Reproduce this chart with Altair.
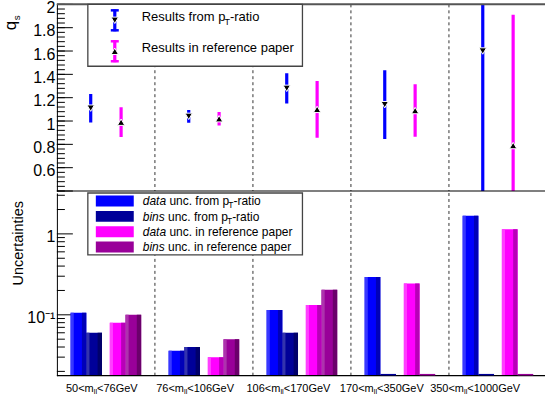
import altair as alt
import pandas as pd

# Invariant-mass bins
BIN_LOW = [50, 76, 106, 170, 350]
BIN_HIGH = [76, 106, 170, 350, 1000]

# q_s results with total uncertainty
Q_PT = [1.11, 1.04, 1.28, 1.14, 1.60]
Q_PT_ERR = [0.122, 0.055, 0.13, 0.295, 1.68]
Q_REF = [0.99, 1.02, 1.10, 1.09, 0.79]
Q_REF_ERR = [0.128, 0.058, 0.243, 0.225, 1.12]

# Uncertainty breakdown
UNC_DATA_PT = [0.106, 0.036, 0.115, 0.294, 1.68]
UNC_BINS_PT = [0.060, 0.040, 0.060, 0.0, 0.0]
UNC_DATA_REF = [0.080, 0.030, 0.132, 0.243, 1.14]
UNC_BINS_REF = [0.100, 0.050, 0.204, 0.0, 0.0]

FONT = "Liberation Sans"
W = 489
H_TOP = 187
H_BOT = 183
X_MAX = 4.98
Q_MIN, Q_MAX = 0.4, 2.0
U_MIN, U_MAX = 0.0177, 3.2

BLUE, NAVY, MAGENTA, PURPLE = "#0000ff", "#000099", "#ff00ff", "#990099"
BASE = [BLUE, NAVY, MAGENTA, PURPLE]
LIGHT = ["#3838ff", "#3333ad", "#ff40ff", "#ad33ad"]
DARK = ["#0000b8", "#00006b", "#b800b8", "#6b006b"]

# Arial / Liberation Sans advance widths (1/1000 em)
ADV = {c: 556 for c in "0123456789"}
ADV.update({"<": 584, "m": 833, "l": 222, "G": 778, "e": 556, "V": 667, "-": 333,
            "r": 333, "a": 556, "t": 278, "i": 222, "o": 556, "T": 611, "p": 556,
            "R": 722, "s": 500, "u": 556, "f": 278, " ": 278, "n": 556, "c": 500,
            ".": 278, "d": 556, "b": 556, "q": 556})


def tw(s, size):
    return sum(ADV.get(ch, 556) for ch in s) / 1000 * size


one = pd.DataFrame({"k": [0]})


def txt(s, x, y, size, align="left", baseline="alphabetic", **kw):
    return alt.Chart(one).mark_text(
        text=s, font=FONT, fontSize=size, align=align, baseline=baseline,
        color=kw.pop("color", "black"), **kw
    ).encode(x=alt.value(x), y=alt.value(y))


def seg(x, x2, y, y2, color, width=1.0, **kw):
    return alt.Chart(one).mark_rule(color=color, strokeWidth=width, **kw).encode(
        x=alt.value(x), x2=alt.value(x2), y=alt.value(y), y2=alt.value(y2))


def box(x, x2, y, y2, fill, stroke=None, width=1.0):
    kw = {"fill": fill}
    if stroke:
        kw.update(stroke=stroke, strokeWidth=width)
    else:
        kw.update(strokeWidth=0)
    return alt.Chart(one).mark_rect(**kw).encode(
        x=alt.value(x), x2=alt.value(x2), y=alt.value(y), y2=alt.value(y2))


XS = alt.Scale(domain=[0, X_MAX], nice=False, zero=False)
QS = alt.Scale(domain=[Q_MIN, Q_MAX], nice=False, zero=False)
US = alt.Scale(type="log", domain=[U_MIN, U_MAX], nice=False)

AX_STYLE = dict(ticks=False, grid=False, domainColor="black", domainWidth=1,
                labelFont=FONT, labelFontSize=16, labelColor="black",
                labelPadding=2, labelOffset=3, title=None)
Q_AXIS = alt.Axis(values=[0.6, 0.8, 1.0, 1.2, 1.4, 1.6, 1.8, 2.0], format="~g", **AX_STYLE)
U_AXIS = alt.Axis(values=[0.1, 1.0], labelExpr="datum.value >= 1 ? '1' : '10⁻¹'", **AX_STYLE)


def qy(f):
    return alt.Y(f, type="quantitative", scale=QS, axis=Q_AXIS)


def uy(f):
    return alt.Y(f, type="quantitative", scale=US, axis=U_AXIS)


def xx(f):
    return alt.X(f, type="quantitative", scale=XS, axis=None)


bounds = pd.DataFrame({"b": [1, 2, 3, 4]})

# ---------------- top panel: q_s ----------------
PT_POS, REF_POS = 0.345, 0.655
rows = []
for i in range(5):
    rows.append({"s": "pt", "x": i + PT_POS, "v": Q_PT[i],
                 "lo": Q_PT[i] - Q_PT_ERR[i], "hi": Q_PT[i] + Q_PT_ERR[i]})
    rows.append({"s": "ref", "x": i + REF_POS, "v": Q_REF[i],
                 "lo": Q_REF[i] - Q_REF_ERR[i], "hi": Q_REF[i] + Q_REF_ERR[i]})
qdf = pd.DataFrame(rows)
ser_color = alt.Color("s:N", scale=alt.Scale(domain=["pt", "ref"], range=[BLUE, MAGENTA]), legend=None)

q_major = pd.DataFrame({"v": [0.4 + 0.2 * k for k in range(9)]})
q_minor = pd.DataFrame({"v": [0.4 + 0.04 * k for k in range(41)]})

top_layers = [
    # invisible anchor that fixes the left/top extent of the figure
    seg(-57, -57, -12, -12, "white", 1, opacity=0),
    alt.Chart(bounds).mark_rule(color="#333333", strokeDash=[3, 3], strokeWidth=1).encode(
        x=xx("b"), y=alt.value(0), y2=alt.value(H_TOP)),
    alt.Chart(q_major).mark_rule(color="black").encode(y=qy("v"), x=alt.value(0), x2=alt.value(16)),
    alt.Chart(q_minor).mark_rule(color="black").encode(y=qy("v"), x=alt.value(0), x2=alt.value(8)),
    alt.Chart(qdf).mark_rule(strokeWidth=3.2, clip=True).encode(
        x=xx("x"), y=qy("lo"), y2="hi", color=ser_color),
    alt.Chart(qdf[qdf.s == "pt"]).mark_point(shape="triangle-down", filled=True, fill="black",
                                              stroke="white", strokeWidth=1, size=55, opacity=1).encode(
        x=xx("x"), y=qy("v")),
    alt.Chart(qdf[qdf.s == "ref"]).mark_point(shape="triangle-up", filled=True, fill="black",
                                               stroke="white", strokeWidth=1, size=55, opacity=1).encode(
        x=xx("x"), y=qy("v")),
    seg(0, W, 0, 0, "#555555", 2),
    seg(0, W, H_TOP, H_TOP, "black", 1.2),
    # legend
    box(31, 246, 0, 62, "white", "#444444", 1.3),
]

for (yc, col, shape, label) in [(16, BLUE, "triangle-down", "Results from p"),
                                (47, MAGENTA, "triangle-up", "Results in reference paper")]:
    sx = 58
    top_layers += [
        seg(sx, sx, yc - 11, yc + 11, col, 3.2),
        seg(sx - 4, sx + 4, yc - 10, yc - 10, col, 2.5),
        seg(sx - 4, sx + 4, yc + 10, yc + 10, col, 2.5),
        alt.Chart(one).mark_point(shape=shape, filled=True, fill="black", stroke="white",
                                  strokeWidth=1, size=55, opacity=1).encode(
            x=alt.value(sx), y=alt.value(yc)),
    ]
    tx = 85
    ty = yc + 1
    top_layers.append(txt(label, tx, ty, 13))
    if label.endswith("p"):
        x1 = tx + tw(label, 13) - 1.0
        top_layers.append(txt("T", x1, ty + 3.5, 9))
        top_layers.append(txt("-ratio", x1 + tw("T", 9), ty, 13))

# axis title q_s
top_layers.append(txt("q", -41, 26, 17, angle=270))
top_layers.append(txt("s", -37, 16, 10, angle=270))

top = alt.layer(*top_layers).properties(width=W, height=H_TOP)

# ---------------- bottom panel: uncertainties ----------------
OFFS = [0.14, 0.30, 0.54, 0.70]
BW = 0.16
series = [UNC_DATA_PT, UNC_BINS_PT, UNC_DATA_REF, UNC_BINS_REF]
brows, zrows = [], []
for si, vals in enumerate(series):
    for i, v in enumerate(vals):
        x0 = i + OFFS[si]
        if v > 0:
            brows.append({"v": v, "x0": x0, "x1": x0 + BW,
                          "l1": x0 + 0.2 * BW, "d0": x0 + BW * 0.72,
                          "base": BASE[si], "light": LIGHT[si], "dark": DARK[si]})
        else:
            # empty entry: only the bar outline on the floor remains
            zrows.append({"x0": x0, "x1": x0 + BW, "base": BASE[si]})
bdf = pd.DataFrame(brows)
zdf = pd.DataFrame(zrows)

u_major = pd.DataFrame({"v": [0.1, 1.0]})
u_minor = pd.DataFrame({"v": [0.02, 0.03, 0.04, 0.05, 0.06, 0.07, 0.08, 0.09,
                              0.2, 0.3, 0.4, 0.5, 0.6, 0.7, 0.8, 0.9, 2.0, 3.0]})

bot_layers = [
    alt.Chart(bounds).mark_rule(color="#333333", strokeDash=[3, 3], strokeWidth=1).encode(
        x=xx("b"), y=alt.value(0), y2=alt.value(H_BOT)),
    alt.Chart(u_major).mark_rule(color="black").encode(y=uy("v"), x=alt.value(0), x2=alt.value(16)),
    alt.Chart(u_minor).mark_rule(color="black").encode(y=uy("v"), x=alt.value(0), x2=alt.value(8)),
    alt.Chart(bdf).mark_rect(strokeWidth=0, clip=True).encode(
        x=xx("x0"), x2="x1", y=uy("v"), y2=alt.datum(U_MIN),
        color=alt.Color("base:N", scale=None)),
    alt.Chart(bdf).mark_rect(strokeWidth=0, clip=True).encode(
        x=xx("x0"), x2="l1", y=uy("v"), y2=alt.datum(U_MIN),
        color=alt.Color("light:N", scale=None)),
    alt.Chart(bdf).mark_rect(strokeWidth=0, clip=True).encode(
        x=xx("d0"), x2="x1", y=uy("v"), y2=alt.datum(U_MIN),
        color=alt.Color("dark:N", scale=None)),
    seg(0, W, H_BOT, H_BOT, "black", 1.2),
    alt.Chart(zdf).mark_rule(strokeWidth=1.5).encode(
        x=xx("x0"), x2="x1", y=alt.value(H_BOT - 1), color=alt.Color("base:N", scale=None)),
    box(31, 246, 0, 62, "white", "#444444", 1.3),
]

leg_rows = [("data", "unc. from p", True), ("bins", "unc. from p", True),
            ("data", "unc. in reference paper", False), ("bins", "unc. in reference paper", False)]
for k, (it, rest, sub) in enumerate(leg_rows):
    yc = 8 + 15.4 * k
    bot_layers.append(box(39, 77, yc - 5.5, yc + 5.5, BASE[k]))
    tx, ty = 86, yc + 4.3
    bot_layers.append(txt(it, tx, ty, 12, fontStyle="italic"))
    x1 = tx + tw(it + " ", 12)
    bot_layers.append(txt(rest, x1, ty, 12))
    if sub:
        x2 = x1 + tw(rest, 12) - 1.0
        bot_layers.append(txt("T", x2, ty + 3, 8.5))
        bot_layers.append(txt("-ratio", x2 + tw("T", 8.5), ty, 12))

# bin labels
for i in range(5):
    left = f"{BIN_LOW[i]}<m"
    right = f"<{BIN_HIGH[i]}GeV"
    total = tw(left, 11) + tw("ll", 7.5) + tw(right, 11)
    cx = 45 + 93.5 * i
    x0 = cx - total / 2
    by = H_BOT + 16
    bot_layers.append(txt(left, x0, by, 11))
    bot_layers.append(txt("ll", x0 + tw(left, 11), by + 2.5, 7.5))
    bot_layers.append(txt(right, x0 + tw(left, 11) + tw("ll", 7.5), by, 11))

bot_layers.append(txt("Uncertainties", -38, 8, 14.5, angle=270, align="right", baseline="middle"))

bottom = alt.layer(*bot_layers).properties(width=W, height=H_BOT)

chart = alt.vconcat(top, bottom, spacing=0).properties(
    padding={"left": 0, "top": -8, "right": 0, "bottom": 0},
    background="white",
).configure_view(stroke=None)

chart.save("out.html", embed_options={"renderer": "svg", "actions": False})
